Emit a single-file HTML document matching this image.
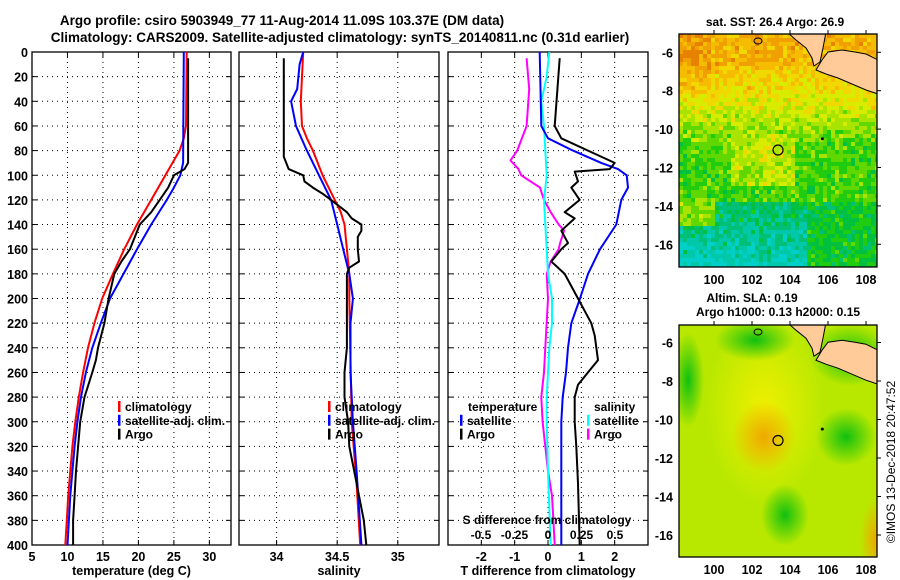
<!DOCTYPE html>
<html><head><meta charset="utf-8">
<style>
html,body{margin:0;padding:0;background:#fff;}
svg{display:block;font-family:"Liberation Sans",sans-serif;font-weight:bold;}
</style></head>
<body>
<svg id="chart" width="900" height="580" viewBox="0 0 900 580" xmlns="http://www.w3.org/2000/svg">
<defs>
<radialGradient id="yelBlob"><stop offset="0" stop-color="#f0f000"/><stop offset="1" stop-color="#f0f000" stop-opacity="0"/></radialGradient>
<radialGradient id="greenBlob"><stop offset="0" stop-color="#10c010"/><stop offset="1" stop-color="#10c010" stop-opacity="0"/></radialGradient>
<radialGradient id="orangeBlob"><stop offset="0" stop-color="#f0a800"/><stop offset="1" stop-color="#f0a800" stop-opacity="0"/></radialGradient>
<clipPath id="clipTop"><rect x="679" y="34" width="198" height="233"/></clipPath>
<clipPath id="clipBot"><rect x="679" y="325" width="198" height="232"/></clipPath>
</defs>
<g id="titles">
<text x="282" y="25" font-size="13.5" text-anchor="middle">Argo profile: csiro 5903949_77 11-Aug-2014 11.09S 103.37E (DM data)</text>
<text x="340" y="42" font-size="13.5" text-anchor="middle">Climatology: CARS2009. Satellite-adjusted climatology: synTS_20140811.nc (0.31d earlier)</text>
<text x="775" y="26" font-size="12" text-anchor="middle">sat. SST: 26.4 Argo: 26.9</text>
<text x="752" y="302" font-size="12" text-anchor="middle">Altim. SLA: 0.19</text>
<text x="778" y="316" font-size="12" text-anchor="middle">Argo h1000: 0.13 h2000: 0.15</text>
<text transform="translate(895,462) rotate(-90)" font-size="12" font-weight="normal" text-anchor="middle">©IMOS 13-Dec-2018 20:47:52</text>
</g>
<g id="panels"></g>
<g id="maps"></g>
</svg>
<script>
// ---- data (depth in dbar/m) ----
const tempClimDepth = [0,60,70,80,90,100,120,140,160,180,200,220,240,260,280,300,320,340,360,380,400];
const tempClimVal   = [26.8,26.7,26.4,25.8,24.8,23.8,21.8,19.8,18.0,16.4,14.9,13.8,12.9,12.2,11.6,11.1,10.7,10.4,10.1,9.9,9.7];
const tempSatDepth  = [0,90,100,110,120,140,160,180,200,220,240,260,280,300,320,340,360,380,400];
const tempSatVal    = [26.4,26.3,25.9,25.0,24.0,21.8,19.8,17.9,16.0,14.7,13.5,12.6,11.9,11.4,11.0,10.7,10.4,10.2,10.0];
const tempArgoDepth = [5,90,95,100,110,120,130,140,150,160,170,180,200,220,240,250,260,280,300,320,340,360,380,400];
const tempArgoVal   = [27.0,27.0,26.5,25.0,24.2,23.0,21.8,20.2,19.5,18.8,17.6,16.6,15.8,15.2,14.3,14.0,13.5,12.4,11.8,11.5,11.2,11.0,10.8,10.8];

const salClimDepth = [0,20,40,60,70,80,100,120,130,140,160,180,200,300,350,400];
const salClimVal   = [34.22,34.21,34.20,34.21,34.25,34.30,34.38,34.48,34.53,34.56,34.58,34.60,34.60,34.62,34.66,34.69];
const salSatDepth  = [0,10,30,40,60,80,100,120,140,160,180,200,220,260,300,340,400];
const salSatVal    = [34.22,34.19,34.17,34.12,34.16,34.25,34.35,34.45,34.50,34.55,34.60,34.63,34.61,34.61,34.63,34.66,34.70];
const salArgoDepth = [5,85,95,100,105,110,115,120,130,135,140,145,150,160,170,175,180,200,240,260,280,300,320,340,360,380,400];
const salArgoVal   = [34.06,34.06,34.10,34.22,34.23,34.30,34.38,34.45,34.58,34.62,34.70,34.70,34.67,34.67,34.68,34.60,34.58,34.58,34.58,34.56,34.56,34.59,34.60,34.64,34.68,34.72,34.74];

const dTSatDepth  = [0,60,70,80,90,95,100,110,120,140,160,180,200,220,240,260,280,300,400];
const dTSatVal    = [-0.25,-0.2,0.0,0.75,1.6,2.1,2.36,2.4,2.2,2.05,1.56,1.2,0.96,0.7,0.6,0.54,0.44,0.4,0.4];
const dTArgoDepth = [5,60,70,80,90,95,97,105,110,120,130,135,145,155,160,170,180,200,220,230,250,260,270,280,300,320,350,400];
const dTArgoVal   = [0.35,0.2,0.4,1.2,2.0,1.85,0.8,0.9,0.7,0.95,0.5,0.8,0.4,0.6,0.4,0.1,0.5,0.9,1.3,1.4,1.5,1.2,0.9,0.8,0.8,0.85,0.9,0.95];
const dSSatDepth  = [0,10,20,40,60,80,100,120,140,160,180,200,220,240,280,300,340,400];
const dSSatVal    = [0.01,0.0,-0.01,-0.05,-0.03,-0.02,-0.01,-0.03,-0.02,-0.01,0.0,0.03,0.03,0.01,-0.01,-0.01,0.0,0.02];
const dSArgoDepth = [5,30,60,80,88,95,100,110,120,130,140,145,155,160,170,180,200,240,260,280,300,320,340,360,380,400];
const dSArgoVal   = [-0.16,-0.14,-0.16,-0.23,-0.28,-0.22,-0.2,-0.06,-0.03,0.02,0.08,0.12,0.09,0.08,0.02,-0.01,0.0,-0.02,-0.03,-0.05,-0.04,-0.02,0.0,0.03,0.04,0.05];

const depthTicks = [0,20,40,60,80,100,120,140,160,180,200,220,240,260,280,300,320,340,360,380,400];
const tempTicks = [5,10,15,20,25,30];
const salTicks = [34,34.5,35];
const dTTicks = [-2,-1,0,1,2];
const dSTicks = [-0.5,-0.25,0,0.25,0.5];
const dSTickLabels = ["-0.5","-0.25","0","0.25","0.5"];
const latTicks = [-6,-8,-10,-12,-14,-16];
const lonTicks = [100,102,104,106,108];
const argoLon = 103.37, argoLat = -11.09;

// ---- axes ----
const Y0 = 52, Y1 = 545;
const yDepth = d => Y0 + d/400*(Y1-Y0);
const P1 = {x0:32,x1:231,min:5,max:33.05};
const P2 = {x0:239,x1:439,min:33.69,max:35.34};
const P3 = {x0:448,x1:648,min:-3,max:3};
const P3s = {min:-0.746,max:0.746};
const sx = (p,v)=>p.x0+(v-p.min)/(p.max-p.min)*(p.x1-p.x0);
const xTemp = v=>sx(P1,v), xSal = v=>sx(P2,v), xDT = v=>sx(P3,v);
const xDS = v=>P3.x0+(v-P3s.min)/(P3s.max-P3s.min)*(P3.x1-P3.x0);

const NS="http://www.w3.org/2000/svg";
const panels=document.getElementById('panels');
function mk(tag,attrs,parent){const e=document.createElementNS(NS,tag);for(const k in attrs)e.setAttribute(k,attrs[k]);(parent||panels).appendChild(e);return e;}
function txt(s,x,y,size,anchor,parent){const t=mk('text',{x:x,y:y,'font-size':size,'text-anchor':anchor||'middle'},parent);t.textContent=s;return t;}

function panel(p,name,xticks,xfn,xlabels,xtitle,showY){
  const g=mk('g',{});
  
  
  depthTicks.forEach(d=>{
    const y=yDepth(d);
    const l=mk('line',{x1:p.x0,x2:p.x1,y1:y,y2:y,stroke:'#000','stroke-width':1,'stroke-dasharray':'1,4'},g);
    
    
    mk('line',{x1:p.x0,x2:p.x0+5,y1:y,y2:y,stroke:'#000'},g);
    mk('line',{x1:p.x1-5,x2:p.x1,y1:y,y2:y,stroke:'#000'},g);
    if(showY){const t=txt(String(d),28,y+5,12.5,'end',g);
      
      }
  });
  xticks.forEach((v,i)=>{
    const x=xfn(v);
    if(x>p.x0+1&&x<p.x1-1){
      const l=mk('line',{x1:x,x2:x,y1:Y0,y2:Y1,stroke:'#000','stroke-dasharray':'1,4'},g);
      
      }
    mk('line',{x1:x,x2:x,y1:Y1-5,y2:Y1,stroke:'#000'},g);
    mk('line',{x1:x,x2:x,y1:Y0,y2:Y0+5,stroke:'#000'},g);
    const t=txt(xlabels[i],x,Y1+16,12.5,'middle',g);
    
    
  });
  const r=mk('rect',{x:p.x0,y:Y0,width:p.x1-p.x0,height:Y1-Y0,fill:'none',stroke:'#000','stroke-width':1.3},g);
  
  
  const t=txt(xtitle,(p.x0+p.x1)/2,Y1+30,12.5,'middle',g);
  
  
  return g;
}
function series(g,depths,vals,xfn,color,name,w){
  const pts=depths.map((d,i)=>xfn(vals[i]).toFixed(1)+','+yDepth(d).toFixed(1)).join(' ');
  const pl=mk('polyline',{points:pts,fill:'none',stroke:color,'stroke-width':w||2,'stroke-linejoin':'round'},g);
  
  
}
function legend(g,x,y,items){
  items.forEach((it,i)=>{
    const yy=y+i*13.8;
    mk('rect',{x:x,y:yy-10,width:2.5,height:11,fill:it[1]},g);
    const t=txt(it[0],x+7,yy,12,'start',g);
    
    
  });
}

const g1=panel(P1,'temperature-panel',tempTicks,xTemp,tempTicks.map(String),'temperature (deg C)',true);
series(g1,tempClimDepth,tempClimVal,xTemp,'#f00','temp-climatology-line');
series(g1,tempSatDepth,tempSatVal,xTemp,'#00f','temp-satellite-line');
series(g1,tempArgoDepth,tempArgoVal,xTemp,'#000','temp-argo-line');
legend(g1,118,411,[['climatology','#f00'],['satellite-adj. clim.','#00f'],['Argo','#000']]);

const g2=panel(P2,'salinity-panel',salTicks,xSal,salTicks.map(String),'salinity',false);
series(g2,salClimDepth,salClimVal,xSal,'#f00','sal-climatology-line');
series(g2,salSatDepth,salSatVal,xSal,'#00f','sal-satellite-line');
series(g2,salArgoDepth,salArgoVal,xSal,'#000','sal-argo-line');
legend(g2,328,411,[['climatology','#f00'],['satellite-adj. clim.','#00f'],['Argo','#000']]);

const g3=panel(P3,'difference-panel',dTTicks,xDT,dTTicks.map(String),'T difference from climatology',false);
series(g3,dSArgoDepth,dSArgoVal,xDS,'#f0f','s-diff-argo-line');
series(g3,dSSatDepth,dSSatVal,xDS,'#0ff','s-diff-satellite-line');
series(g3,dTSatDepth,dTSatVal,xDT,'#00f','t-diff-satellite-line');
series(g3,dTArgoDepth,dTArgoVal,xDT,'#000','t-diff-argo-line');
{const t=txt('temperature',468,411,12,'start',g3);}
{const t=txt('salinity',594,411,12,'start',g3);}
legend(g3,460,424.8,[['satellite','#00f'],['Argo','#000']]);
legend(g3,587,424.8,[['satellite','#0ff'],['Argo','#f0f']]);
{const t=txt('S difference from climatology',547,524,12,'middle',g3);}
dSTicks.forEach((v,i)=>{const t=txt(dSTickLabels[i],xDS(v),539,12,'middle',g3);
  
  });

// ---- maps ----
const maps=document.getElementById('maps');
const palette=['#e88000','#f0a000','#f6bc00','#f0d800','#d8ec00','#a8e400','#60d800','#20cc10','#00c040','#00c078','#00c8a8','#00d0c8'];
function hash(i,j){let h=(i*374761393+j*668265263)|0;h=(h^(h>>>13))*1274126177|0;return ((h^(h>>>16))>>>0)/4294967296;}
function sstTexture(g){
  const cs=4;
  for(let j=0;j<59;j++){for(let i=0;i<50;i++){
    const fx=i/50, fy=j/59;
    let b;
    if(fy<0.12) b=1.8; else if(fy<0.28) b=2.2+(fy-0.12)*10; else if(fy<0.45) b=3.8+(fy-0.28)*14; else if(fy<0.7) b=6.6; else b=8.5+(fy-0.7)*8;
    if(fx<0.15&&fy<0.25) b-=0.8;
    if(fy>0.42&&fy<0.64&&fx>0.25&&fx<0.58) b=4.4+Math.abs(fx-0.42)*6;
    if(fy>0.7&&fx>0.62) b=7.6;
    if(fy>0.68&&fy<0.8&&fx<0.18) b=5.6;
    const n=hash(i,j);
    let idx=Math.round(b+(n-0.5)*2.4);
    if(n>0.97) idx=idx-3;
    idx=Math.max(0,Math.min(palette.length-1,idx));
    mk('rect',{x:679+i*cs,y:34+j*cs,width:cs,height:cs,fill:palette[idx]},g);
  }}
}
function mapFrame(name,x0,y0,x1,y1,lonAt,latAt,clip,fillFn){
  const g=mk('g',{},maps);
  
  
  const inner=mk('g',{'clip-path':'url(#'+clip+')'},g);
  fillFn(inner);
  const dy=latAt(-6)-52.3;
  const sum=[[787,32],[796,40],[806,48],[812,58],[814,66],[820,62],[823,48],[826,32]].map(p=>p[0]+','+(p[1]+dy)).join(' ');
  const java=[[816,70],[822,60],[828,52],[842,50],[855,52],[866,54],[878,60],[878,94],[866,90],[852,84],[838,78],[826,74]].map(p=>p[0]+','+(p[1]+dy)).join(' ');
  [sum,java].forEach(pts=>{
    const lp=mk('polygon',{points:pts,fill:'#ffcc99',stroke:'#000','stroke-width':1},inner);
    
    });
  mk('ellipse',{cx:758,cy:y0+7,rx:4,ry:3,fill:'none',stroke:'#000'},inner);
  mk('circle',{cx:lonAt(105.7),cy:latAt(-10.5),r:1.5,fill:'#000'},inner);
  const c=mk('circle',{cx:lonAt(argoLon),cy:latAt(argoLat),r:5,fill:'none',stroke:'#000','stroke-width':1.2},g);
  
  
  mk('rect',{x:x0,y:y0,width:x1-x0,height:y1-y0,fill:'none',stroke:'#000','stroke-width':1.3},g);
  latTicks.forEach(v=>{const y=latAt(v);
    mk('line',{x1:x1,x2:x1+4,y1:y,y2:y,stroke:'#000'},g);
    const t=txt(String(v),x0-6,y+5,12.5,'end',g);
    
    });
  lonTicks.forEach(v=>{const x=lonAt(v);
    mk('line',{x1:x,x2:x,y1:y0-4,y2:y0,stroke:'#000'},g);
    const t=txt(String(v),x,y1+17,12.5,'middle',g);
    
    });
}
const lonX=v=>714+(v-100)*19;
const latTop=v=>52.3+(-6-v)*19.2;
const latBot=v=>342.5+(-6-v)*19.25;
mapFrame('sst-map',679,34,877,267,lonX,latTop,'clipTop',sstTexture);
mapFrame('sla-map',679,325,877,557,lonX,latBot,'clipBot',g=>{
  mk('rect',{x:679,y:325,width:198,height:232,fill:'#b8e800'},g);
  mk('ellipse',{cx:765,cy:410,rx:60,ry:95,fill:'url(#yelBlob)'},g);
  mk('ellipse',{cx:764,cy:437,rx:32,ry:36,fill:'url(#orangeBlob)'},g);
  mk('ellipse',{cx:846,cy:437,rx:30,ry:29,fill:'url(#greenBlob)'},g);
  mk('ellipse',{cx:785,cy:515,rx:24,ry:31,fill:'url(#greenBlob)'},g);
  mk('ellipse',{cx:688,cy:380,rx:16,ry:47,fill:'url(#greenBlob)'},g);
  mk('ellipse',{cx:850,cy:355,rx:40,ry:31,fill:'url(#greenBlob)'},g);
  mk('ellipse',{cx:755,cy:340,rx:40,ry:21,fill:'url(#greenBlob)'},g);
  mk('ellipse',{cx:876,cy:540,rx:16,ry:42,fill:'url(#orangeBlob)'},g);
});
</script>
</body></html>
